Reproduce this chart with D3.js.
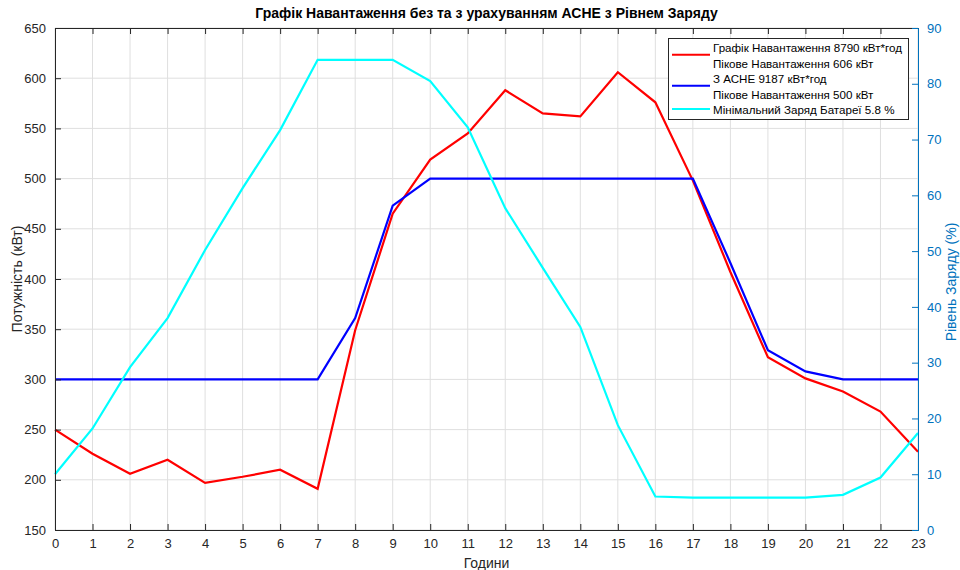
<!DOCTYPE html>
<html><head><meta charset="utf-8">
<script src="https://cdn.jsdelivr.net/npm/d3@7"></script>
<style>body{margin:0;background:#fff;} svg{display:block;font-family:"Liberation Sans",Arial,sans-serif;}</style>
</head><body>
<svg id="c" width="960" height="570"></svg>
<script>
const hours = d3.range(0, 24);
const loadBase = [250,226,206,220,197,203,210,191,349,465,519,545,588,565,562,606,576,498,407,322,301,288,268,228];
const loadEss = [300,300,300,300,300,300,300,300,361,473,500,500,500,500,500,500,500,500,416,329,308,300,300,300];
const soc = [10.0,18.2,29.2,38.0,50.2,61.3,71.7,84.3,84.3,84.3,80.5,72.2,57.7,47.0,36.4,18.8,6.0,5.8,5.8,5.8,5.8,6.3,9.4,17.4];
const leftTicks = [150,200,250,300,350,400,450,500,550,600,650];
const rightTicks = [0,10,20,30,40,50,60,70,80,90];
const legendLabels = [
  ["Графік Навантаження 8790 кВт*год","Пікове Навантаження 606 кВт"],
  ["З АСНЕ 9187 кВт*год","Пікове Навантаження 500 кВт"],
  ["Мінімальний Заряд Батареї 5.8 %"]
];
const colors = ["#ff0000","#0000ff","#00ffff"];
const rightColor = "#0072BD";

const svg = d3.select("#c");
const L = 55, R = 918, T = 28, B = 530;
const x = d3.scaleLinear().domain([0,23]).range([L,R]);
const yL = d3.scaleLinear().domain([150,650]).range([B,T]);
const yR = d3.scaleLinear().domain([0,90]).range([B,T]);

// grid
const g = svg.append("g");
g.selectAll("line.vg").data(hours).enter().append("line")
  .attr("x1",d=>x(d)).attr("x2",d=>x(d)).attr("y1",T).attr("y2",B)
  .attr("stroke","#dfdfdf").attr("stroke-width",1);
g.selectAll("line.hg").data(leftTicks).enter().append("line")
  .attr("x1",L).attr("x2",R).attr("y1",d=>yL(d)).attr("y2",d=>yL(d))
  .attr("stroke","#dfdfdf").attr("stroke-width",1);

// lines
const series = [loadBase, loadEss];
series.forEach((s,i)=>{
  svg.append("path").datum(s)
    .attr("d", d3.line().x((d,j)=>x(hours[j])).y(d=>yL(d)))
    .attr("fill","none").attr("stroke",colors[i]).attr("stroke-width",2.2);
});
svg.append("path").datum(soc)
  .attr("d", d3.line().x((d,j)=>x(hours[j])).y(d=>yR(d)))
  .attr("fill","none").attr("stroke",colors[2]).attr("stroke-width",2.2);

// axes
const xb = d3.axisBottom(x).tickValues(hours).tickSize(-6).tickPadding(9).tickFormat(d3.format("d"));
const xt = d3.axisTop(x).tickValues(hours).tickSize(-6).tickFormat("");
const yl = d3.axisLeft(yL).tickValues(leftTicks).tickSize(-6).tickPadding(9);
const yr = d3.axisRight(yR).tickValues(rightTicks).tickSize(-6).tickPadding(9);
function style(sel,col){
  sel.select(".domain").attr("stroke",col).attr("stroke-width",1);
  sel.selectAll(".tick line").attr("stroke",col);
  sel.selectAll(".tick text").attr("fill",col).style("font-size","13px").style("font-family","'Liberation Sans',Arial,sans-serif");
}
style(svg.append("g").attr("transform",`translate(0,${B})`).call(xb),"#262626");
style(svg.append("g").attr("transform",`translate(0,${T})`).call(xt),"#262626");
style(svg.append("g").attr("transform",`translate(${L},0)`).call(yl),"#262626");
style(svg.append("g").attr("transform",`translate(${R},0)`).call(yr),rightColor);

// labels
svg.append("text").attr("x",(L+R)/2).attr("y",18).attr("text-anchor","middle")
  .style("font-size","14px").style("font-weight","bold").attr("fill","#000")
  .text("Графік Навантаження без та з урахуванням АСНЕ з Рівнем Заряду");
svg.append("text").attr("x",(L+R)/2).attr("y",568).attr("text-anchor","middle")
  .style("font-size","14px").attr("fill","#262626").text("Години");
svg.append("text").attr("transform",`translate(22,${(T+B)/2}) rotate(-90)`).attr("text-anchor","middle")
  .style("font-size","14px").attr("fill","#262626").text("Потужність (кВт)");
svg.append("text").attr("transform",`translate(956,${(T+B)/2+3}) rotate(-90)`).attr("text-anchor","middle")
  .style("font-size","14px").attr("fill",rightColor).text("Рівень Заряду (%)");

// legend
const lg = svg.append("g");
lg.append("rect").attr("x",668.5).attr("y",38.5).attr("width",240).attr("height",81)
  .attr("fill","#fff").attr("stroke","#262626").attr("stroke-width",1);
let row = 0;
const rowH = 15.5, y0 = 52;
legendLabels.forEach((lab,i)=>{
  const yy = y0 + row*rowH;
  const ly = yy + (lab.length-1)*rowH/2 - 5;
  lg.append("line").attr("x1",672).attr("x2",710).attr("y1",ly).attr("y2",ly)
    .attr("stroke",colors[i]).attr("stroke-width",2.2);
  lab.forEach((t,k)=>{
    lg.append("text").attr("x",713).attr("y",yy + k*rowH).style("font-size","11.6px")
      .attr("fill","#000").text(t);
  });
  row += lab.length;
});
</script>
</body></html>
